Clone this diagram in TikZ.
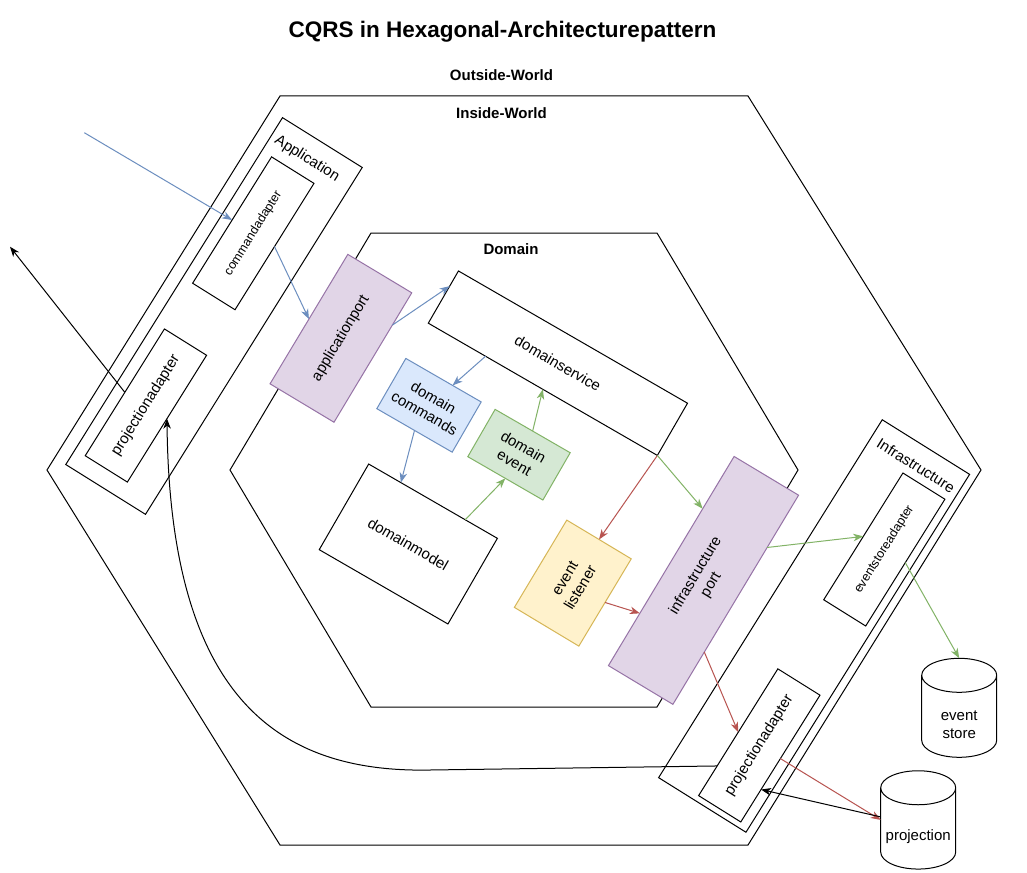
\documentclass[tikz,border=0pt]{standalone}
\usepackage{fontspec}
\setmainfont{Liberation Sans}
\usetikzlibrary{arrows.meta,calc}

\definecolor{blueline}{HTML}{6C8EBF}
\definecolor{bluefill}{HTML}{DAE8FC}
\definecolor{greenline}{HTML}{82B366}
\definecolor{greenfill}{HTML}{D5E8D4}
\definecolor{redline}{HTML}{B85450}
\definecolor{purpleline}{HTML}{9673A6}
\definecolor{purplefill}{HTML}{E1D5E7}
\definecolor{yellowline}{HTML}{D6B656}
\definecolor{yellowfill}{HTML}{FFF2CC}

\newcommand{\txtnorm}{\fontsize{15}{18}\selectfont}
\newcommand{\txtsmall}{\fontsize{12.5}{15}\selectfont}
\newcommand{\txtbold}{\fontsize{15}{18}\selectfont\bfseries}
\newcommand{\txttitle}{\fontsize{22.5}{27}\selectfont\bfseries}

\begin{document}
\begin{tikzpicture}[x=1pt,y=-1pt,
  every node/.style={inner sep=0pt, outer sep=0pt},
  frame/.style={draw=black, line width=1pt, line join=miter},
  box/.style={draw=black, line width=1pt, fill=white, align=center, font=\txtnorm},
  portbox/.style={box, draw=purpleline, fill=purplefill},
  cmdbox/.style={box, draw=blueline, fill=bluefill},
  evtbox/.style={box, draw=greenline, fill=greenfill},
  lstbox/.style={box, draw=yellowline, fill=yellowfill},
  cylnode/.style={minimum width=75pt},
  cyl/.style={draw=black, line width=1pt, fill=white},
  tip/.style={-{Stealth[length=10pt,width=7.5pt,inset=3pt]}, line width=1pt},
  arrB/.style={tip, draw=blueline},
  arrG/.style={tip, draw=greenline},
  arrR/.style={tip, draw=redline},
  arrK/.style={tip, draw=black}
]
\useasboundingbox (0,0) rectangle (1027,872);
\fill[white] (0,0) rectangle (1027,872);

% headings
\node[font=\txttitle] (title) at (502.5,32) {CQRS in Hexagonal-Architecturepattern};
\node[font=\txtbold] (outw) at (501.5,75) {Outside-World};
\node[font=\txtbold] (inw) at (501.5,113) {Inside-World};

% outer hexagon (inside world) and inner hexagon (domain)
\draw[frame] (280,96) -- (748,96) -- (981,470) -- (748,845) -- (280,845) -- (47,470) -- cycle;
\draw[frame] (371,233) -- (657,233) -- (798,470) -- (657,707) -- (371,707) -- (230,470) -- cycle;
\node[font=\txtbold] (domlbl) at (511,249) {Domain};

% application layer
\node[box, rotate=58, minimum width=409pt, minimum height=94pt] (app) at (214,316) {};
\node[font=\txtnorm, rotate=-32] (applbl) at (307,159) {Application};
\node[box, font=\txtsmall, rotate=58, minimum width=149pt, minimum height=50pt] (cmd) at (253.3,233.3) {commandadapter};
\node[box, rotate=58, minimum width=149.5pt, minimum height=49.7pt] (pl) at (145.9,405.5) {projectionadapter};

% infrastructure layer
\node[box, rotate=58, minimum width=422pt, minimum height=103pt] (infra) at (814.1,626) {};
\node[font=\txtnorm, rotate=-32] (infralbl) at (916,465.5) {Infrastructure};
\node[box, font=\txtsmall, rotate=58, minimum width=149.5pt, minimum height=49.5pt] (esa) at (884.3,549.5) {eventstoreadapter};
\node[box, rotate=58, minimum width=149.5pt, minimum height=49.7pt] (pr) at (759.3,745.4) {projectionadapter};

% domain content
\node[portbox, rotate=59, minimum width=151pt, minimum height=74.6pt] (ap) at (340.9,338.3) {applicationport};
\node[box, rotate=-30, minimum width=264.5pt, minimum height=60.3pt] (ds) at (557.9,363.2) {domainservice};
\node[cmdbox, rotate=-30, minimum width=87pt, minimum height=58pt] (dc) at (429,405.3) {domain\\commands};
\node[evtbox, rotate=-30, minimum width=86.7pt, minimum height=54.6pt] (de) at (519,454.7) {domain\\event};
\node[box, rotate=-30, minimum width=148.6pt, minimum height=98.9pt] (dm) at (408.3,544) {domainmodel};
\node[lstbox, rotate=59, minimum width=101.8pt, minimum height=75.2pt] (el) at (572.8,583.1) {event\\listener};
\node[portbox, rotate=59, minimum width=244pt, minimum height=75.2pt] (ip) at (703.5,580.4) {infrastructure\\port};

% storage cylinders
\node[cylnode, minimum height=99pt] (es) at (959.2,707.8) {};
\draw[cyl] ([yshift=-17pt]es.north west) -- ([yshift=17pt]es.south west)
  arc[start angle=180, end angle=360, x radius=37.5pt, y radius=17pt]
  -- ([yshift=-17pt]es.north east)
  arc[start angle=0, end angle=180, x radius=37.5pt, y radius=17pt]
  arc[start angle=180, end angle=360, x radius=37.5pt, y radius=17pt];
\node[font=\txtnorm, align=center] (estxt) at ([yshift=-17pt]es.center) {event\\store};

\node[cylnode, minimum height=98.3pt] (proj) at (918.2,819.9) {};
\draw[cyl] ([yshift=-17pt]proj.north west) -- ([yshift=17pt]proj.south west)
  arc[start angle=180, end angle=360, x radius=37.5pt, y radius=17pt]
  -- ([yshift=-17pt]proj.north east)
  arc[start angle=0, end angle=180, x radius=37.5pt, y radius=17pt]
  arc[start angle=180, end angle=360, x radius=37.5pt, y radius=17pt];
\node[font=\txtnorm] (projtxt) at ([yshift=-17pt]proj.center) {projection};

% free ends of the outside connectors
\coordinate (incoming) at (84.3,132.7);
\coordinate (outgoing) at (10,246.7);

% command flow
\draw[arrB] (incoming) -- (cmd.north);
\draw[arrB] (cmd.south) -- (ap.north);
\draw[arrB] ($(ap.south west)!0.75!(ap.south east)$) -- ($(ds.south west)!0.71!(ds.north west)$);
\draw[arrB] ($(ds.south west)!0.25!(ds.south east)$) -- ($(dc.north west)!0.62!(dc.north east)$);
\draw[arrB] (dc.south) -- ($(dm.north west)!0.25!(dm.north east)$);

% event flow
\draw[arrG] ($(dm.north west)!0.75!(dm.north east)$) -- (de.south);
\draw[arrG] (de.north) -- (ds.south);
\draw[arrR] (ds.south east) -- (el.east);
\draw[arrG] (ds.south east) -- ($(ip.north west)!0.75!(ip.north east)$);
\draw[arrR] (el.south) -- ($(ip.north west)!0.25!(ip.north east)$);
\draw[arrG] ($(ip.south west)!0.75!(ip.south east)$) -- (esa.north);
\draw[arrG] (esa.south) -- (es.north);
\draw[arrR] ($(ip.south west)!0.25!(ip.south east)$) -- (pr.north);
\draw[arrR] (pr.south) -- (proj.west);

% query flow
\draw[arrK] ([yshift=3pt]proj.west) -- ($(pr.south west)!0.256!(pr.south east)$);
\draw[arrK] ($(pr.north west)!0.234!(pr.north east)$) -- (430,770)
  .. controls (280,773) and (170,700) .. (pl.south);
\draw[arrK] (pl.north) -- (outgoing);
\end{tikzpicture}
\end{document}
